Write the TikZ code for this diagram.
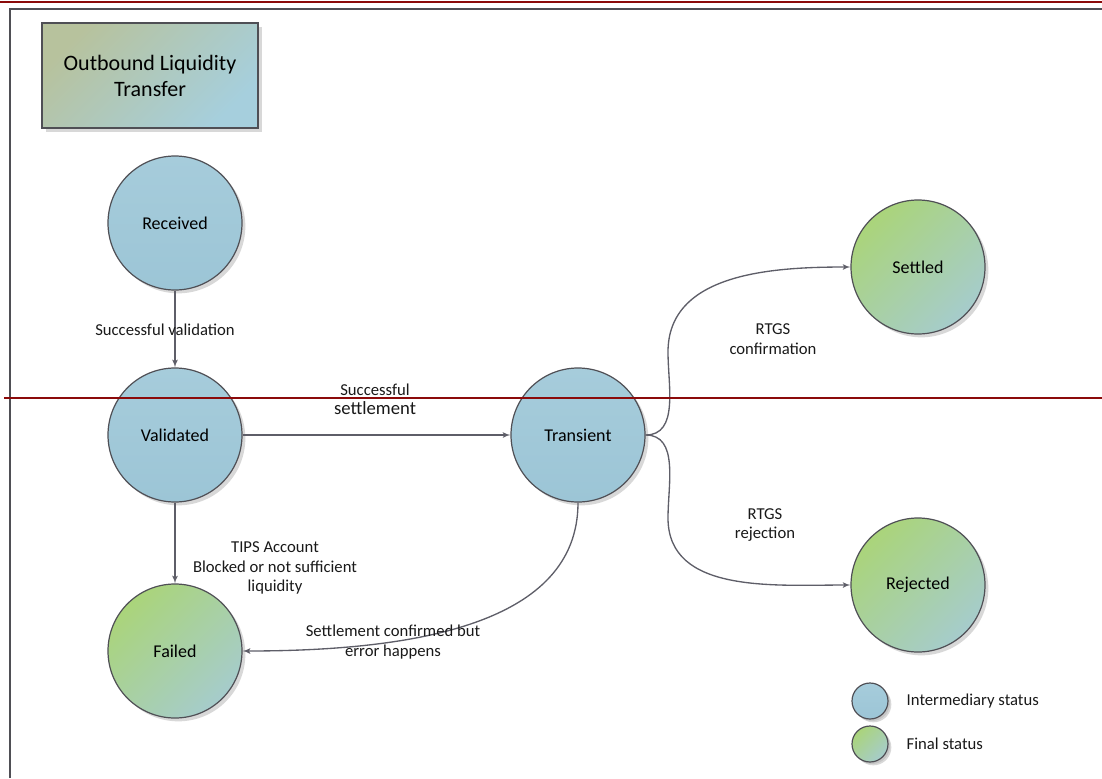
\documentclass[tikz,border=0pt]{standalone}
\usepackage{fontspec}
\setmainfont{Carlito}
\usetikzlibrary{arrows,shadows}
\definecolor{midblue}{HTML}{9CC5D6}
\definecolor{midblueL}{HTML}{A6CCDB}
\definecolor{endgreen}{HTML}{AAD47A}
\definecolor{endteal}{HTML}{A6CCCC}
\definecolor{titleolive}{HTML}{B7C29D}
\definecolor{titleblue}{HTML}{A6CFDD}
\definecolor{rimgray}{HTML}{4F4F55}
\definecolor{wiregray}{HTML}{5E5E68}
\definecolor{bandred}{HTML}{8B0A0A}
\begin{document}
\begin{tikzpicture}[x=0.75pt,y=-0.75pt]

		\tikzset{state/.style = {shape=circle,draw=rimgray,line width=0.9pt,minimum size=100.5pt,font=\fontsize{13.5}{16}\selectfont,drop shadow={shadow xshift=2.5pt,shadow yshift=-2.5pt,fill=black!30,opacity=0.5}}}
		\tikzset{inter/.style = {state,top color=midblueL,bottom color=midblue}}
		\tikzset{final/.style = {state,top color=endgreen,bottom color=endteal,shading angle=45}}
		\tikzset{flow/.style = {->,> = latex',draw=wiregray,line width=1pt}}
		\tikzset{note/.style = {align=center,font=\fontsize{12.5}{14.5}\selectfont,text=black!90}}
		\useasboundingbox (0,0) rectangle (1102,778);
		% frame
		\draw[rimgray,line width=1pt] (10,778) -- (10,9) -- (1102,9);
		\draw[bandred,line width=1.6pt] (0,2) -- (1102,2);
		% title
		\node[draw=rimgray,line width=0.9pt,top color=titleolive,bottom color=titleblue,shading angle=45,minimum width=162pt,minimum height=78.75pt,align=center,font=\fontsize{16.5}{19.5}\selectfont,drop shadow={shadow xshift=3pt,shadow yshift=-3pt,fill=black!30,opacity=0.5}] (title) at (150,75.5) {Outbound Liquidity\\Transfer};
		% vertices
		\node[inter] (rcv) at (175,223) {Received};
		\node[inter] (val) at (175,435) {Validated};
		\node[final] (fail) at (175,651) {Failed};
		\node[inter] (tra) at (578,435) {Transient};
		\node[final] (set) at (918,267) {Settled};
		\node[final] (rej) at (918,585) {Rejected};
		\coordinate (up) at (668,352);
		\coordinate (down) at (668,518);
		%edges
		\draw[flow] (rcv) -- (val);
		\draw[flow] (val) -- (tra);
		\draw[flow] (val) -- (fail);
		\draw[flow] (tra.south) to[out=-90,in=0,out looseness=0.85,in looseness=1.2] (fail.east);
		\draw[flow] (tra.east) to[out=0,in=-90] (up) to[out=90,in=180] (set.west);
		\draw[flow] (tra.east) to[out=0,in=90] (down) to[out=-90,in=180] (rej.west);
		% labels
		\node[note] (l1) at (165,330) {Successful validation};
		\node[note] (l2) at (375,399) {Successful\\{\fontsize{14}{14.5}\selectfont settlement}};
		\node[note] (l3) at (275,568) {TIPS Account\\Blocked or not sufficient\\liquidity};
		\node[note] (l4) at (393,642) {Settlement confirmed but\\error happens};
		\node[note] (l5) at (773,339) {RTGS\\confirmation};
		\node[note] (l6) at (765,525) {RTGS\\rejection};
		% legend
		\node[inter,minimum size=27pt,drop shadow={shadow xshift=1.5pt,shadow yshift=-1.5pt,fill=black!30,opacity=0.5}] (kint) at (870,701) {};
		\node[final,minimum size=27pt,drop shadow={shadow xshift=1.5pt,shadow yshift=-1.5pt,fill=black!30,opacity=0.5}] (kfin) at (870,744) {};
		\node[note,anchor=west] (kintt) at (902,701) {Intermediary status};
		\node[note,anchor=west] (kfint) at (902,744) {Final status};
		% band over the picture
		\draw[bandred,line width=1.6pt] (4,398) -- (1102,398);
\end{tikzpicture}
\end{document}
